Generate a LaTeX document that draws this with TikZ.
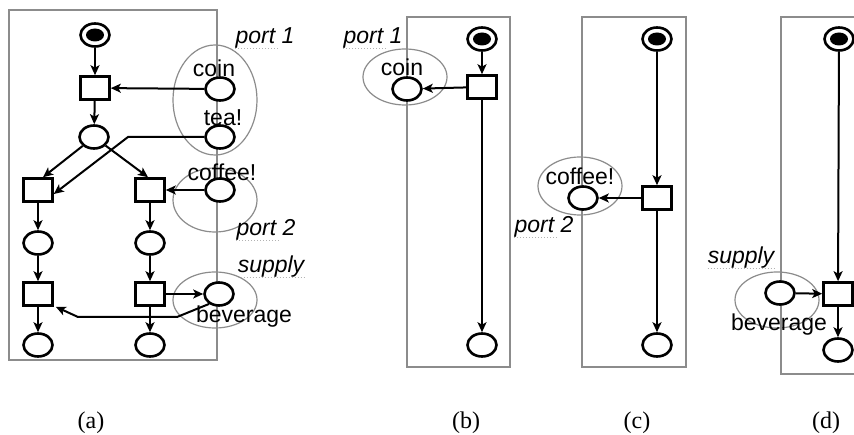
\documentclass[tikz,border=0pt]{standalone}
\usepackage{fontspec}
\setmainfont{Liberation Serif}
\newfontfamily\labfont{Liberation Sans}
\usetikzlibrary{arrows.meta,shapes.geometric}
\begin{document}
\begin{tikzpicture}[x=1pt,y=-1pt,
  place/.style={ellipse,draw=black,line width=2.6pt,minimum width=29pt,minimum height=23pt,inner sep=0pt,fill=white},
  startplace/.style={place,path picture={\fill[black] (path picture bounding box.center) ellipse[x radius=9pt,y radius=6.5pt];}},
  trans/.style={rectangle,draw=black,line width=2.6pt,minimum width=29pt,minimum height=23pt,inner sep=0pt,fill=white},
  arc/.style={draw=black,line width=2pt,-{Stealth[length=10pt,width=9pt,inset=2.5pt]}},
  panel/.style={draw=black!45,line width=1.2pt},
  portring/.style={draw=black!45,line width=1.2pt},
  squig/.style={draw=black!30,line width=1pt,dotted},
  lab/.style={font=\labfont\fontsize{23}{26}\selectfont,inner sep=0pt},
  plab/.style={font=\labfont\itshape\fontsize{23}{26}\selectfont,inner sep=0pt},
  captxt/.style={font=\fontsize{24}{27}\selectfont,inner sep=0pt}
]
\useasboundingbox (0,0) rectangle (854,435);
\fill[white] (0,0) rectangle (854,435);

% ---------------- panel (a) ----------------
\draw[panel] (9,10) rectangle (217,360);
\draw[portring] (215,100) ellipse[x radius=42, y radius=55];
\draw[portring] (215,200) ellipse[x radius=42, y radius=32];
\draw[portring] (215,300) ellipse[x radius=42, y radius=28];

\node[startplace] (sA) at (95,35) {};
\node[trans] (tA1) at (95,88) {};
\node[place] (pA1) at (94,137) {};
\node[trans] (tAL) at (38,190) {};
\node[trans] (tAR) at (150,190) {};
\node[place] (pAL) at (38,243) {};
\node[place] (pAR) at (150,243) {};
\node[trans] (tAL2) at (38,294) {};
\node[trans] (tAR2) at (150,294) {};
\node[place] (pAL3) at (38,345) {};
\node[place] (pAR3) at (150,345) {};
\node[place] (coinA) at (220,89) {};
\node[place] (teaA) at (220,137) {};
\node[place] (coffeeA) at (220,190) {};
\node[place] (supA) at (219,294) {};

\node[lab] (lcoinA) at (214,68) {coin};
\node[lab] (lteaA) at (223,118) {tea!};
\node[lab] (lcoffeeA) at (222,172) {coffee!};
\node[lab] (lbevA) at (244,317) {beverage};
\node[plab] (lport1A) at (265,38) {port 1};
\node[plab] (lport2A) at (266,230) {port 2};
\node[plab] (lsupA) at (271,267) {supply};

\coordinate (teaBend) at (128,137);
\coordinate (supBend1) at (177,317);
\coordinate (supBend2) at (78,317);

\draw[arc] (sA) -- (tA1);
\draw[arc] (coinA) -- (tA1);
\draw[arc] (tA1) -- (pA1);
\draw[arc] (pA1) -- ([xshift=5pt]tAL.north);
\draw[arc] (pA1) -- ([xshift=-2pt]tAR.north);
\draw[arc] (teaA.west) -- (teaBend) -- ([yshift=-4pt]tAL.east);
\draw[arc] (coffeeA) -- (tAR);
\draw[arc] (tAL) -- (pAL);
\draw[arc] (tAR) -- (pAR);
\draw[arc] (pAL) -- (tAL2);
\draw[arc] (pAR) -- (tAR2);
\draw[arc] (tAL2) -- (pAL3);
\draw[arc] (tAR2) -- (pAR3);
\draw[arc] (tAR2) -- (supA);
\draw[arc] (supA.225) -- (supBend1) -- (supBend2) -- ([xshift=2pt]tAL2.south east);

% ---------------- panel (b) ----------------
\draw[panel] (407,17) rectangle (510,367);
\draw[portring] (405,77) ellipse[x radius=42, y radius=28];
\node[startplace] (sB) at (482,39) {};
\node[trans] (tB) at (482,87) {};
\node[place] (coinB) at (407,89) {};
\node[place] (pB) at (482,345) {};
\node[lab] (lcoinB) at (402,67) {coin};
\node[plab] (lport1B) at (373,38) {port 1};
\draw[arc] (sB) -- (tB);
\draw[arc] (tB) -- (coinB);
\draw[arc] (tB) -- (pB);

% ---------------- panel (c) ----------------
\draw[panel] (582,17) rectangle (686,367);
\draw[portring] (580,186) ellipse[x radius=42, y radius=29];
\node[startplace] (sC) at (657,39) {};
\node[trans] (tC) at (657,198) {};
\node[place] (coffeeC) at (583,198) {};
\node[place] (pC) at (657,345) {};
\node[lab] (lcoffeeC) at (580,176) {coffee!};
\node[plab] (lport2C) at (544,227) {port 2};
\draw[arc] (sC) -- (tC);
\draw[arc] (tC) -- (coffeeC);
\draw[arc] (tC) -- (pC);

% ---------------- panel (d) ----------------
\draw[panel] (870,17) -- (781,17) -- (781,374) -- (870,374);
\draw[portring] (777,300) ellipse[x radius=42, y radius=28];
\node[startplace] (sD) at (839,39) {};
\node[trans] (tD) at (838,294) {};
\node[place] (supD) at (780,293) {};
\node[place] (pD) at (838,350) {};
\node[plab] (lsupD) at (741,258) {supply};
\node[lab] (lbevD) at (779,325) {beverage};
\draw[arc] (sD) -- (tD);
\draw[arc] (supD) -- (tD);
\draw[arc] (tD) -- (pD);

% spell-check style underlines seen in the reference
\draw[squig] (lport1A.south west) -- ([xshift=-16pt]lport1A.south east);
\draw[squig] (lport2A.south west) -- ([xshift=-16pt]lport2A.south east);
\draw[squig] (lsupA.south west) -- (lsupA.south east);
\draw[squig] (lport1B.south west) -- ([xshift=-16pt]lport1B.south east);
\draw[squig] (lport2C.south west) -- ([xshift=-16pt]lport2C.south east);
\draw[squig] (lsupD.south west) -- (lsupD.south east);

% ---------------- captions ----------------
\node[captxt] (capA) at (91,423) {(a)};
\node[captxt] (capB) at (466,423) {(b)};
\node[captxt] (capC) at (637,423) {(c)};
\node[captxt] (capD) at (826,423) {(d)};
\end{tikzpicture}
\end{document}
